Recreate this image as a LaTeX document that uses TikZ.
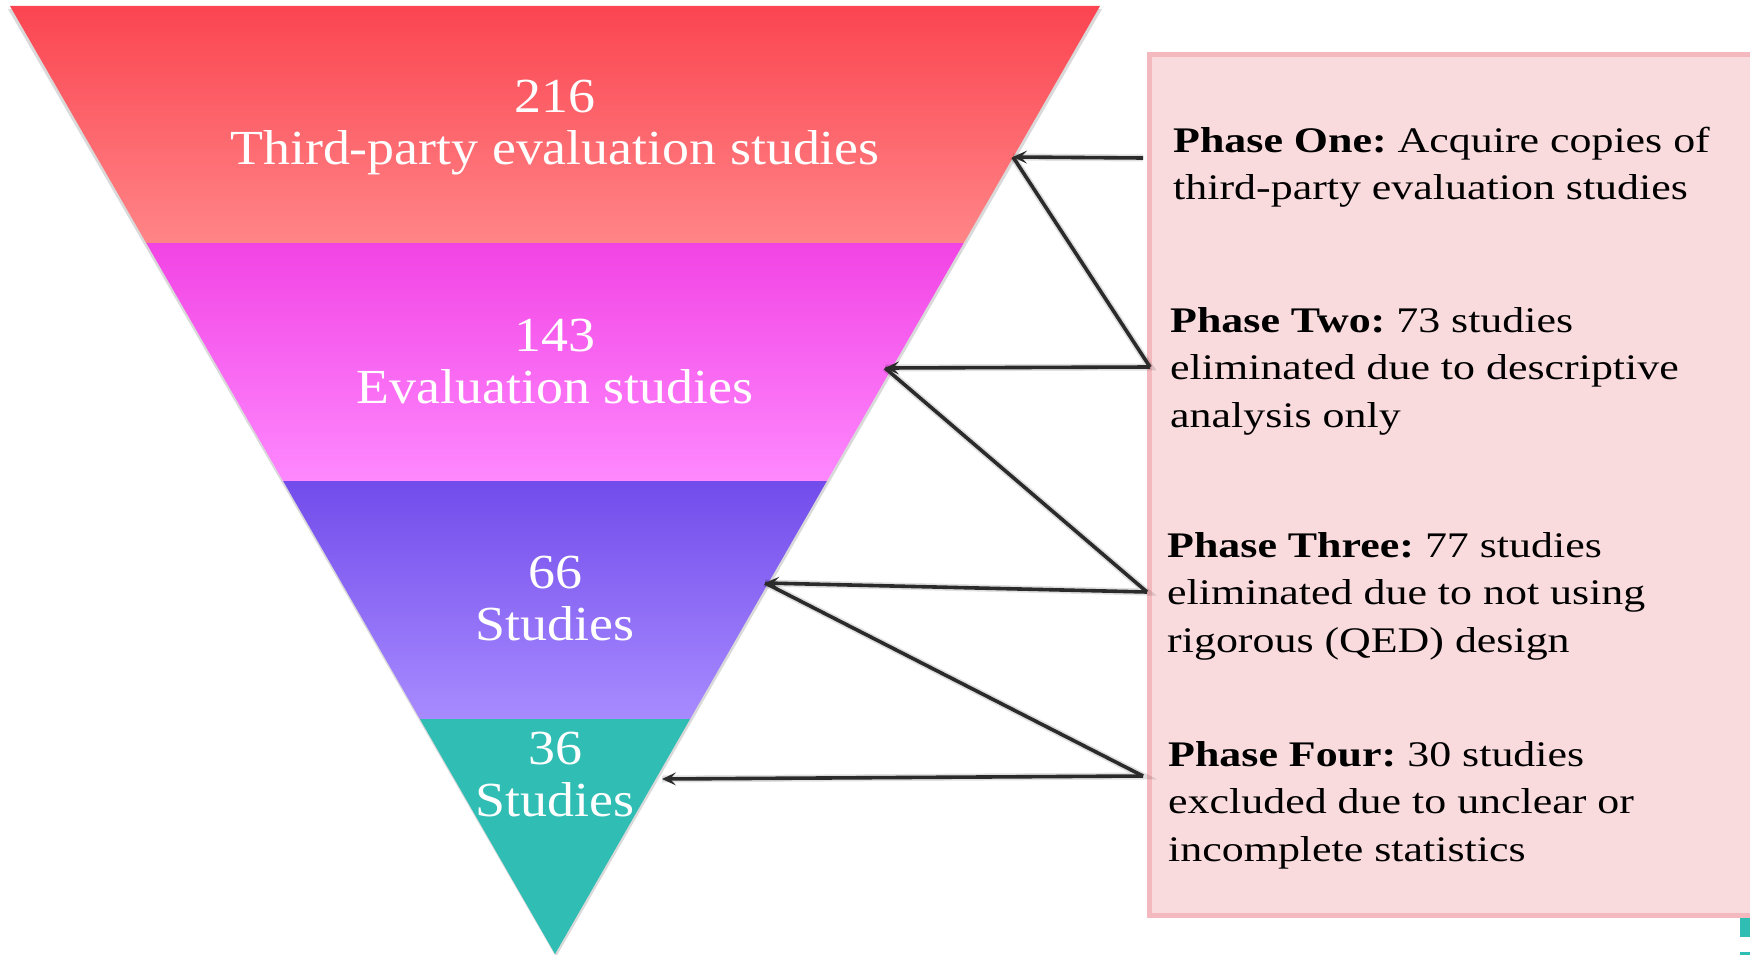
\documentclass[tikz,border=0pt]{standalone}
\usepackage{fontspec}
\setmainfont{Liberation Serif}
\newfontfamily\boxfont[FakeStretch=1.22]{Liberation Serif}
\newfontfamily\bandfont[FakeStretch=1.1]{Liberation Serif}
\frenchspacing
\usetikzlibrary{arrows.meta}
\definecolor{redTop}{HTML}{FB4551}
\definecolor{redBot}{HTML}{FF8587}
\definecolor{magTop}{HTML}{F244E4}
\definecolor{magBot}{HTML}{FE88FE}
\definecolor{purTop}{HTML}{724CEB}
\definecolor{purBot}{HTML}{A88BFF}
\definecolor{tealF}{HTML}{2FBDB4}
\definecolor{boxFill}{HTML}{F9DBDE}
\definecolor{boxLine}{HTML}{F4B9BE}
\definecolor{arrowC}{HTML}{2B2B2B}
\tikzset{
  bandlabel/.style={anchor=base, inner sep=0pt, text=white,
    font=\bandfont\fontsize{49}{52}\selectfont},
  phasetext/.style={anchor=base west, inner sep=0pt, text=black,
    font=\boxfont\fontsize{36}{47.5}\selectfont},
  conn/.style={draw=arrowC, line width=3.6pt},
  connarrow/.style={conn, -{Stealth[length=14pt,width=13pt,inset=6pt]}},
  connshadow/.style={draw=black, opacity=0.12, line width=7pt},
}
\newcommand{\twolines}[3]{\vtop{\baselineskip=#1\halign{\hfil##\hfil\cr #2\cr #3\cr}}}
\newcommand{\leftlines}[1]{\vtop{\baselineskip=47.5pt\halign{##\hfil\cr #1\crcr}}}
\begin{document}
\begin{tikzpicture}[x=1pt,y=-1pt]
\useasboundingbox (0,0) rectangle (1750,955);
% triangle shadow
\fill[black,opacity=0.15] (8,9) -- (1102,9) -- (556,957) -- cycle;
% bands
\shade[top color=redTop, bottom color=redBot] (10,6) -- (1100,6) -- (963.75,243) -- (146.25,243) -- cycle;
\shade[top color=magTop, bottom color=magBot] (146.25,243) -- (963.75,243) -- (826.9,481) -- (283.1,481) -- cycle;
\shade[top color=purTop, bottom color=purBot] (283.1,481) -- (826.9,481) -- (690.1,719) -- (419.9,719) -- cycle;
\fill[tealF] (419.9,719) -- (690.1,719) -- (555,954) -- cycle;
% band labels
\node[bandlabel] (b1) at (555,113) {\twolines{52pt}{216}{Third-party evaluation studies}};
\node[bandlabel] (b2) at (555,351) {\twolines{52pt}{143}{Evaluation studies}};
\node[bandlabel] (b3) at (555,588) {\twolines{52pt}{66}{Studies}};
\node[bandlabel] (b4) at (555,764) {\twolines{52pt}{36}{Studies}};
% phase box
\draw[fill=boxFill, draw=boxLine, line width=5pt] (1149.5,55) rectangle (1770,915.5);
\fill[tealF] (1740,918) rectangle (1750,937);
\fill[tealF] (1740,952) rectangle (1750,955);
\node[phasetext] (ph1) at (1173,152) {\leftlines{\textbf{Phase One:} Acquire copies of\cr third-party evaluation studies}};
\node[phasetext] (ph2) at (1170,332) {\leftlines{\textbf{Phase Two:} 73 studies\cr eliminated due to descriptive\cr analysis only}};
\node[phasetext] (ph3) at (1167,557) {\leftlines{\textbf{Phase Three:} 77 studies\cr eliminated due to not using\cr rigorous (QED) design}};
\node[phasetext] (ph4) at (1168,766) {\leftlines{\textbf{Phase Four:} 30 studies\cr excluded due to unclear or\cr incomplete statistics}};
% connector points
\coordinate (t1) at (1013,157);
\coordinate (t2) at (885,368);
\coordinate (t3) at (765,583);
\coordinate (t4) at (662,779);
\coordinate (p1) at (1143,158);
\coordinate (p2) at (1150,367);
\coordinate (p3) at (1147,592);
\coordinate (p4) at (1143,776);
% shadows
\begin{scope}[shift={(1,4)}]
\draw[connshadow] (p1) -- (t1);
\draw[connshadow] (t1) -- (p2) -- (t2);
\draw[connshadow] (t2) -- (p3) -- (t3);
\draw[connshadow] (t3) -- (p4) -- (t4);
\end{scope}
% connectors
\draw[connarrow] (p1) -- (t1);
\draw[conn] (t1) -- (p2);
\draw[connarrow] (p2) -- (t2);
\draw[conn] (t2) -- (p3);
\draw[connarrow] (p3) -- (t3);
\draw[conn] (t3) -- (p4);
\draw[connarrow] (p4) -- (t4);
\end{tikzpicture}
\end{document}
